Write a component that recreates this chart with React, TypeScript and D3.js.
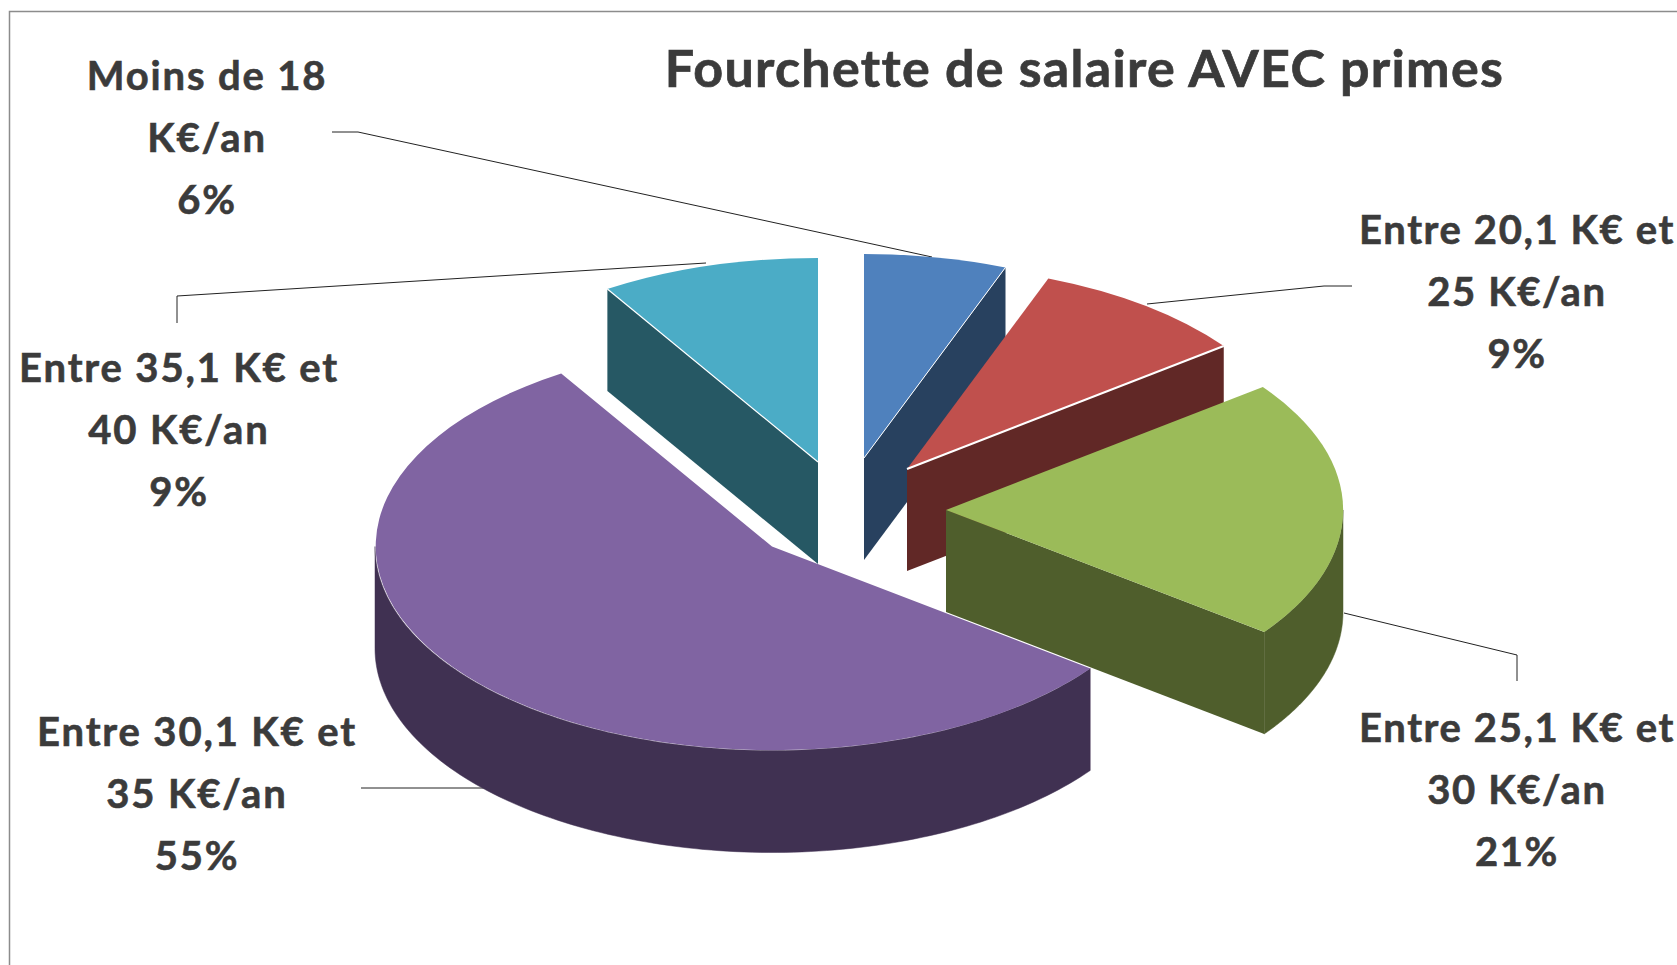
import React from "react";
import * as d3 from "d3";

const categories = ["Moins de 18 K€/an", "Entre 20,1 K€ et 25 K€/an", "Entre 25,1 K€ et 30 K€/an", "Entre 30,1 K€ et 35 K€/an", "Entre 35,1 K€ et 40 K€/an"];
const values = [5.8, 8.9, 20.5, 55.9, 8.9];
const percentLabels = ["6%", "9%", "21%", "55%", "9%"];
const labelLines = [
  ["Moins de 18", "K€/an"],
  ["Entre 20,1 K€ et", "25 K€/an"],
  ["Entre 25,1 K€ et", "30 K€/an"],
  ["Entre 30,1 K€ et", "35 K€/an"],
  ["Entre 35,1 K€ et", "40 K€/an"],
];
const topColors = ["#4F81BD", "#C0504D", "#9BBB59", "#8064A2", "#4BACC6"];
const sideColors = ["#28415F", "#612826", "#4F5E2C", "#403152", "#265864"];
const title = "Fourchette de salaire AVEC primes";

// layout
const W = 1677, H = 965;
const RX = 397, RY = 204, DEPTH = 102;
const centers: [number, number][] = [[864, 458], [907, 469], [946, 510], [772, 546.5], [818, 462]];
const labelPos: [number, number][] = [[207, 90], [1517, 244], [1517, 742], [197, 746], [179, 382]];
const labelSpacing = [1.85, 1.6, 1.6, 1.85, 1.85];
const cutHighlight = [1, 2, 0, 0, 1.2];
const cutFaceSide = ["end", "end", "end", "none", "start"];
const leaders: [number, number][][] = [
  [[332, 132], [358, 132], [932, 257]],
  [[1147, 304], [1324, 286], [1352, 286]],
  [[1344, 613], [1517, 655], [1517, 681]],
  [[361, 788], [484, 788]],
  [[177, 323], [177, 296], [706, 263]],
];
const drawOrder = [4, 0, 1, 2, 3];
const FONT = "Lato, Carlito, Calibri, sans-serif";

const pie = d3.pie<number>().sort(null)(values);
const unitArc = d3.arc<any>().innerRadius(0).outerRadius(1);
const line = d3.line();

function project(c: [number, number], a: number, dz = 0): [number, number] {
  return [c[0] + RX * Math.sin(a), c[1] - RY * Math.cos(a) + dz];
}

function Slice({ i }: { i: number }) {
  const c = centers[i];
  const { startAngle, endAngle } = pie[i];
  const cutAngle = cutFaceSide[i] === "end" ? endAngle : startAngle;
  const wallFrom = Math.max(startAngle, Math.PI / 2);
  const wallTo = Math.min(endAngle, (Math.PI * 3) / 2);
  const wallSteps = wallTo > wallFrom ? d3.range(0, 121).map((k) => wallFrom + ((wallTo - wallFrom) * k) / 120) : [];
  const wall = d3.area<number>()
    .x((a) => project(c, a)[0])
    .y0((a) => project(c, a)[1])
    .y1((a) => project(c, a, DEPTH)[1]);
  const rimPoint = project(c, cutAngle);
  const face = cutFaceSide[i] === "none" ? null : line([
    c, rimPoint, project(c, cutAngle, DEPTH), [c[0], c[1] + DEPTH],
  ]) + "Z";
  return (
    <g>
      {face && <path d={face} fill={sideColors[i]} />}
      {wallSteps.length > 0 && <path d={wall(wallSteps) as string} fill={sideColors[i]} stroke={sideColors[i]} strokeWidth={0.5} />}
      <path
        d={unitArc({ startAngle, endAngle }) as string}
        transform={`translate(${c[0]},${c[1]}) scale(${RX},${RY})`}
        fill={topColors[i]}
      />
      {cutHighlight[i] > 0 && (
        <line x1={c[0]} y1={c[1]} x2={rimPoint[0]} y2={rimPoint[1]} stroke="#ffffff" strokeWidth={cutHighlight[i]} />
      )}
    </g>
  );
}

export default function App() {
  const LH = 62;
  return (
    <svg width={W} height={H} viewBox={`0 0 ${W} ${H}`} style={{ position: "absolute", left: 0, top: 0, display: "block", background: "#fff" }}>
      <path d={`M9.5 ${H}V11.5H${W}`} fill="none" stroke="#8c8c8c" strokeWidth={1.5} />
      {leaders.map((l, i) => (
        <path key={i} d={line(l) as string} fill="none" stroke="#222" strokeWidth={1} />
      ))}
      {drawOrder.map((i) => <Slice key={i} i={i} />)}
      <text x={1084.5} y={87} textAnchor="middle" fontFamily={FONT} fontWeight={700} fontSize={52} fill="#3b3b3b" stroke="#3b3b3b" strokeWidth={0.7} letterSpacing={1.3}>{title}</text>
      {categories.map((cat, i) => (
        <text key={cat} textAnchor="middle" fontFamily={FONT} fontWeight={700} fontSize={40} fill="#3b3b3b" stroke="#3b3b3b" strokeWidth={0.6} letterSpacing={labelSpacing[i]}>
          {[...labelLines[i], percentLabels[i]].map((t, k) => (
            <tspan key={k} x={labelPos[i][0]} y={labelPos[i][1] + k * LH}>{t}</tspan>
          ))}
        </text>
      ))}
    </svg>
  );
}
